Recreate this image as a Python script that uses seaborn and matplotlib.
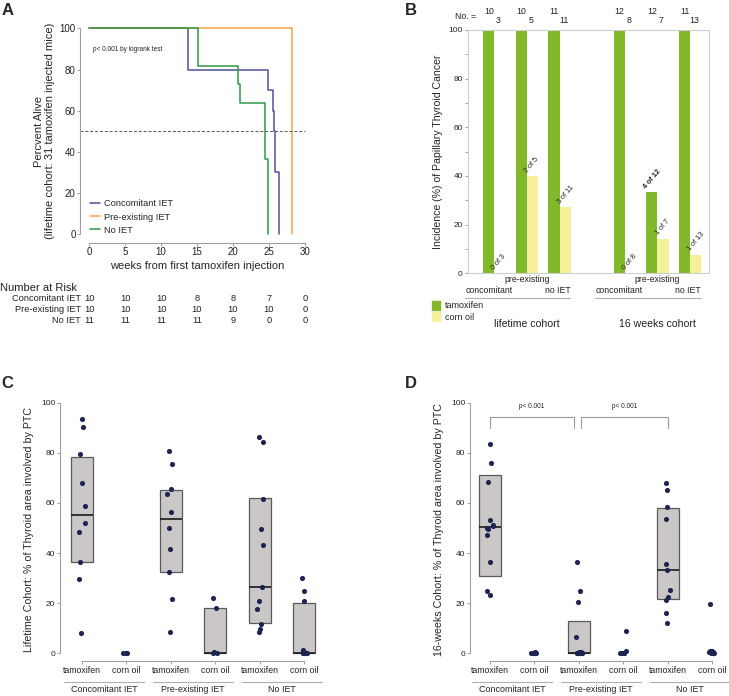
import numpy as np
import pandas as pd
import seaborn as sns
import matplotlib.pyplot as plt
from matplotlib.lines import Line2D
from matplotlib.patches import Patch
from matplotlib.transforms import blended_transform_factory

#%% data
# A: week of death for each tamoxifen injected mouse (lifetime cohort)
km_groups = ['Concomitant IET', 'Pre-existing IET', 'No IET']
deaths_conc = [13.8, 13.8, 24.9, 25.5, 25.7, 25.9, 25.9, 26.4, 26.4, 26.4]
deaths_pre = [28.2] * 10
deaths_no = [15.1, 15.1, 20.7, 20.97, 24.4, 24.4, 24.4, 24.9, 24.9, 24.9, 24.9]
risk_weeks = [0, 5, 10, 15, 20, 25, 30]
risk_conc = [10, 10, 10, 8, 8, 7, 0]
risk_pre = [10, 10, 10, 10, 10, 10, 0]
risk_no = [11, 11, 11, 11, 9, 0, 0]

# B: PTC counts per arm
b_cohorts = ['lifetime cohort', '16 weeks cohort']
b_arms = ['concomitant', 'pre-existing', 'no IET']
tam_pos = [10, 10, 11, 12, 4, 11]
tam_n = [10, 10, 11, 12, 12, 11]
oil_pos = [0, 2, 3, 0, 1, 1]
oil_n = [3, 5, 11, 8, 7, 13]

# C / D: % thyroid area involved by PTC
cd_groups = ['Concomitant IET', 'Pre-existing IET', 'No IET']
cd_treat = ['tamoxifen', 'corn oil']
c_conc_tam = [93.5, 90.3, 79.5, 68.1, 58.8, 52.0, 48.5, 36.4, 29.6, 8.2]
c_conc_oil = [0.0, 0.2, 0.1]
c_pre_tam = [80.8, 75.6, 65.5, 63.4, 56.5, 50.0, 41.5, 32.4, 21.8, 8.4]
c_pre_oil = [22.0, 18.1, 0.3, 0.5, 0.1]
c_no_tam = [86.3, 84.2, 61.4, 49.5, 43.2, 26.6, 21.0, 17.8, 11.8, 9.6, 8.4]
c_no_oil = [30.2, 24.9, 20.7, 1.2, 0.8, 0.5, 0.3, 0.2, 0.1, 0.0, 0.0]
c_box_lo = [36.6, np.nan, 32.6, 0.0, 12.0, 0.0]
c_box_med = [55.0, np.nan, 53.4, 0.3, 26.4, 0.2]
c_box_hi = [78.2, np.nan, 65.0, 17.9, 62.0, 20.1]

d_conc_tam = [83.6, 76.0, 68.2, 53.3, 51.2, 50.8, 50.0, 49.6, 47.3, 36.3, 24.9, 23.1]
d_conc_oil = [0.0, 0.3, 0.1, 0.0, 0.2, 0.4, 0.1, 0.0]
d_pre_tam = [36.3, 24.9, 20.6, 6.3, 0.7, 0.4, 0.2, 0.0, 0.0, 0.1, 0.3, 0.0]
d_pre_oil = [9.0, 0.8, 0.3, 0.0, 0.1, 0.0, 0.2]
d_no_tam = [67.8, 65.0, 58.2, 53.7, 35.5, 33.3, 25.1, 22.5, 21.4, 16.1, 12.1]
d_no_oil = [19.8, 1.0, 0.8, 0.6, 0.4, 0.3, 0.2, 0.1, 0.0, 0.0, 0.5, 0.7, 0.9]
d_box_lo = [31.0, np.nan, 0.0, np.nan, 21.8, np.nan]
d_box_med = [50.5, np.nan, 0.0, np.nan, 33.2, np.nan]
d_box_hi = [71.2, np.nan, 12.9, np.nan, 57.8, np.nan]

#%% style
sns.set_theme(style='white')
plt.rcParams['font.family'] = ['Liberation Sans', 'DejaVu Sans']
plt.rcParams['axes.linewidth'] = 0.8

W, H = 729, 696
km_cols = ['#50509f', '#f2a444', '#2f9a48']
green, yellow = '#82b92b', '#f6ef9b'
dot_col = '#1d2452'
spine_col = '#a0a0a0'
txt_col = '#222222'

fig = plt.figure(figsize=(W / 100, H / 100), dpi=100)


def add_ax(l, t, r, b):
    return fig.add_axes([l / W, 1 - b / H, (r - l) / W, (b - t) / H])


def style_ax(ax, fs):
    for s in ['top', 'right']:
        ax.spines[s].set_visible(False)
    for s in ['left', 'bottom']:
        ax.spines[s].set_color(spine_col)
        ax.spines[s].set_linewidth(0.8)
    ax.tick_params(length=2.2, width=0.7, color=spine_col, labelcolor=txt_col,
                   labelsize=fs, pad=1.2, left=True, bottom=True)


def fy(y):
    return 1 - y / H


#%% A: survival
axA = add_ax(80.4, 20.1, 313.6, 242.5)
km_rows = []
for g, deaths in zip(km_groups, [deaths_conc, deaths_pre, deaths_no]):
    d = np.sort(deaths)
    n = len(d)
    times, surv = [0.0], [100.0]
    for u in np.unique(d):
        times.append(u)
        surv.append(100 * (d > u).sum() / n)
    km_rows.append(pd.DataFrame({'week': times, 'surv': surv, 'group': g}))
df_km = pd.concat(km_rows, ignore_index=True)
sns.lineplot(data=df_km, x='week', y='surv', hue='group', hue_order=km_groups,
             palette=km_cols, estimator=None, sort=False, drawstyle='steps-post',
             lw=1.1, legend=False, ax=axA)
axA.hlines(50, -1.2, 30, colors='#555555', linestyles=(0, (3, 2)), lw=0.7)
axA.set_xlim(-1.2, 31.2)
axA.set_ylim(-4, 104)
axA.set_xticks(risk_weeks)
axA.set_yticks(range(0, 101, 20))
style_ax(axA, 7)
axA.spines['left'].set_bounds(0, 100)
axA.spines['bottom'].set_bounds(0, 30)
axA.set_xlabel('weeks from first tamoxifen injection', fontsize=8, labelpad=3)
axA.set_ylabel('Percvent Alive\n(lifetime cohort: 31 tamoxifen injected mice)',
               fontsize=8, labelpad=3, linespacing=1.2)
axA.text(0.6, 89.5, 'p< 0.001 by logrank test', fontsize=4.7, va='center', color=txt_col)
axA.legend(handles=[Line2D([], [], color=c, lw=1.1) for c in km_cols], labels=km_groups,
           loc='lower left', bbox_to_anchor=(0.042, 0.035), frameon=False, fontsize=6.7,
           handlelength=1.1, handletextpad=0.4, labelspacing=0.45, borderpad=0,
           borderaxespad=0)

# number at risk table
trA = blended_transform_factory(axA.transData, fig.transFigure)
fig.text(0.5 / W, fy(288.3), 'Number at Risk', fontsize=8, va='center', color=txt_col)
for row_y, g, counts in zip([298.7, 309.7, 320.7], km_groups, [risk_conc, risk_pre, risk_no]):
    fig.text(80.7 / W, fy(row_y), g, fontsize=6.7, ha='right', va='center', color=txt_col)
    for w, c in zip(risk_weeks, counts):
        axA.text(w, fy(row_y), str(c), transform=trA, fontsize=6.7, ha='center',
                 va='center', color=txt_col)

#%% B: incidence bars
axB = add_ax(468, 30, 709, 273.3)
order_b = [f'{c}: {a}' for c in b_cohorts[:1] for a in b_arms] + [' '] + \
          [f'{c}: {a}' for c in b_cohorts[1:] for a in b_arms]
slots_b = [s for s in order_b if s != ' ']
df_b = pd.DataFrame({
    'slot': slots_b * 2,
    'treatment': ['tamoxifen'] * 6 + ['corn oil'] * 6,
    'incidence': [100 * p / n for p, n in zip(tam_pos + oil_pos, tam_n + oil_n)],
})
sns.barplot(data=df_b, x='slot', y='incidence', hue='treatment', order=order_b,
            hue_order=['tamoxifen', 'corn oil'], palette=[green, yellow], width=0.69,
            saturation=1, errorbar=None, legend=False, linewidth=0, ax=axB)
axB.set_xlim(-0.807, 6.58)
axB.set_ylim(0, 100)
axB.set_yticks(range(0, 101, 20))
axB.set_yticks(range(10, 100, 20), minor=True)
axB.set_xticks([])
axB.set_xlabel('')
for s in axB.spines.values():
    s.set_visible(True)
    s.set_color('#cfcfcf')
    s.set_linewidth(0.8)
axB.tick_params(axis='y', which='both', length=2.5, width=0.7, color=spine_col,
                labelcolor=txt_col, labelsize=6, pad=1.2, left=True)
axB.set_ylabel('Incidence (%) of Papillary Thyroid Cancer', fontsize=7.6, labelpad=4)

trB = blended_transform_factory(axB.transData, fig.transFigure)
fig.text(455 / W, fy(16.7), 'No. =', fontsize=6.3, va='center', color=txt_col)
for i, s in enumerate(slots_b):
    x = order_b.index(s)
    axB.text(x - 0.17, fy(11), str(tam_n[i]), transform=trB, fontsize=6.3, ha='center',
             va='center', color=txt_col)
    axB.text(x + 0.12, fy(20.3), str(oil_n[i]), transform=trB, fontsize=6.3, ha='center',
             va='center', color=txt_col)
    axB.text(x + 0.05, 100 * oil_pos[i] / oil_n[i] + 0.8, f'{oil_pos[i]} of {oil_n[i]}',
             rotation=50, rotation_mode='anchor', ha='left', va='bottom', fontsize=5.2,
             color=txt_col)
    if tam_pos[i] < tam_n[i]:
        axB.text(x - 0.29, 100 * tam_pos[i] / tam_n[i] + 0.8, f'{tam_pos[i]} of {tam_n[i]}',
                 rotation=50, rotation_mode='anchor', ha='left', va='bottom', fontsize=5.2,
                 fontweight='bold', color=txt_col)
    arm = b_arms[i % 3]
    if arm == 'pre-existing':
        axB.text(x, fy(279.5), arm, transform=trB, fontsize=6.3, ha='center', va='center',
                 color=txt_col)
    elif arm == 'concomitant':
        axB.text(x - 0.17, fy(290), arm, transform=trB, fontsize=6.3, ha='center',
                 va='center', color=txt_col)
    else:
        axB.text(x - 0.06, fy(290), arm, transform=trB, fontsize=6.3, ha='center',
                 va='center', color=txt_col)
for k, c in enumerate(b_cohorts):
    x0 = order_b.index(f'{c}: {b_arms[0]}')
    axB.plot([x0 - 0.9, x0 + 2.32], [fy(298)] * 2, transform=trB, color='#b0b0b0',
             lw=0.8, clip_on=False)
    axB.text(x0 + 1, fy(324), c, transform=trB, fontsize=7.6, ha='center', va='center',
             color=txt_col)
fig.legend(handles=[Patch(color=green), Patch(color=yellow)], labels=['tamoxifen', 'corn oil'],
           loc='upper left', bbox_to_anchor=(432 / W, fy(301)), frameon=False, fontsize=6.5,
           handlelength=0.9, handleheight=1.1, handletextpad=0.5, labelspacing=0.2,
           borderpad=0, borderaxespad=0)


#%% C / D: dot + box panels
def dot_box(ax, values, lo, med, hi, ylabel, xlim):
    slots = [f'{g}|{t}' for g in cd_groups for t in cd_treat]
    df = pd.DataFrame({'slot': np.repeat(slots, [len(v) for v in values]),
                       'val': np.concatenate(values)})
    np.random.seed(3)
    sns.stripplot(data=df, x='slot', y='val', order=slots, color=dot_col, size=3.7,
                  jitter=0.08, linewidth=0, zorder=3, ax=ax)
    for i in range(len(slots)):
        if np.isnan(med[i]):
            continue
        ax.bxp([dict(med=med[i], q1=lo[i], q3=hi[i], whislo=lo[i], whishi=hi[i], fliers=[])],
               positions=[i], widths=0.5, patch_artist=True, showcaps=False,
               showfliers=False, manage_ticks=False,
               boxprops=dict(facecolor='#cbc7c7', edgecolor='#5a5a5a', lw=0.9, zorder=2),
               medianprops=dict(color='#1a1a1a', lw=1.2, zorder=2),
               whiskerprops=dict(lw=0))
    ax.set_xlim(*xlim)
    ax.set_ylim(-3, 102)
    ax.set_xticks(range(6), cd_treat * 3)
    ax.set_yticks(range(0, 101, 20))
    style_ax(ax, 6.3)
    ax.tick_params(axis='y', labelsize=6)
    ax.spines['left'].set_bounds(0, 100)
    ax.spines['bottom'].set_bounds(0, 5)
    ax.set_xlabel('')
    ax.set_ylabel(ylabel, fontsize=7.7, labelpad=5)
    tr = blended_transform_factory(ax.transData, fig.transFigure)
    for k, g in enumerate(cd_groups):
        xc = 2 * k + 0.5
        ax.plot([xc - 0.9, xc + 0.9], [fy(681.7)] * 2, transform=tr, color='#b0b0b0',
                lw=0.8, clip_on=False)
        ax.text(xc, fy(690), g, transform=tr, fontsize=6.4, ha='center', va='center',
                color=txt_col)


axC = add_ax(60, 397.6, 326, 660.8)
dot_box(axC, [c_conc_tam, c_conc_oil, c_pre_tam, c_pre_oil, c_no_tam, c_no_oil],
        c_box_lo, c_box_med, c_box_hi,
        'Lifetime Cohort: % of Thyroid area involved by PTC', (-0.488, 5.49))

axD = add_ax(470, 397.6, 726, 660.8)
dot_box(axD, [d_conc_tam, d_conc_oil, d_pre_tam, d_pre_oil, d_no_tam, d_no_oil],
        d_box_lo, d_box_med, d_box_hi,
        '16-weeks Cohort: % of Thyroid area involved by PTC', (-0.45, 5.315))
for a, b in [(0, 1.9), (2.05, 4)]:
    axD.plot([a, a, b, b], [89.7, 94.4, 94.4, 89.7], color='#9a9a9a', lw=0.8, clip_on=False)
    axD.text((a + b) / 2, 98.3, 'p< 0.001', fontsize=4.7, ha='center', va='center',
             color=txt_col)

# panel letters
for lbl, x, y in [('A', 2, 3), ('B', 405, 3), ('C', 1, 376), ('D', 405, 376)]:
    fig.text(x / W, fy(y), lbl, fontsize=12, fontweight='bold', va='top', ha='left')

fig.savefig('out.png', dpi=100)
